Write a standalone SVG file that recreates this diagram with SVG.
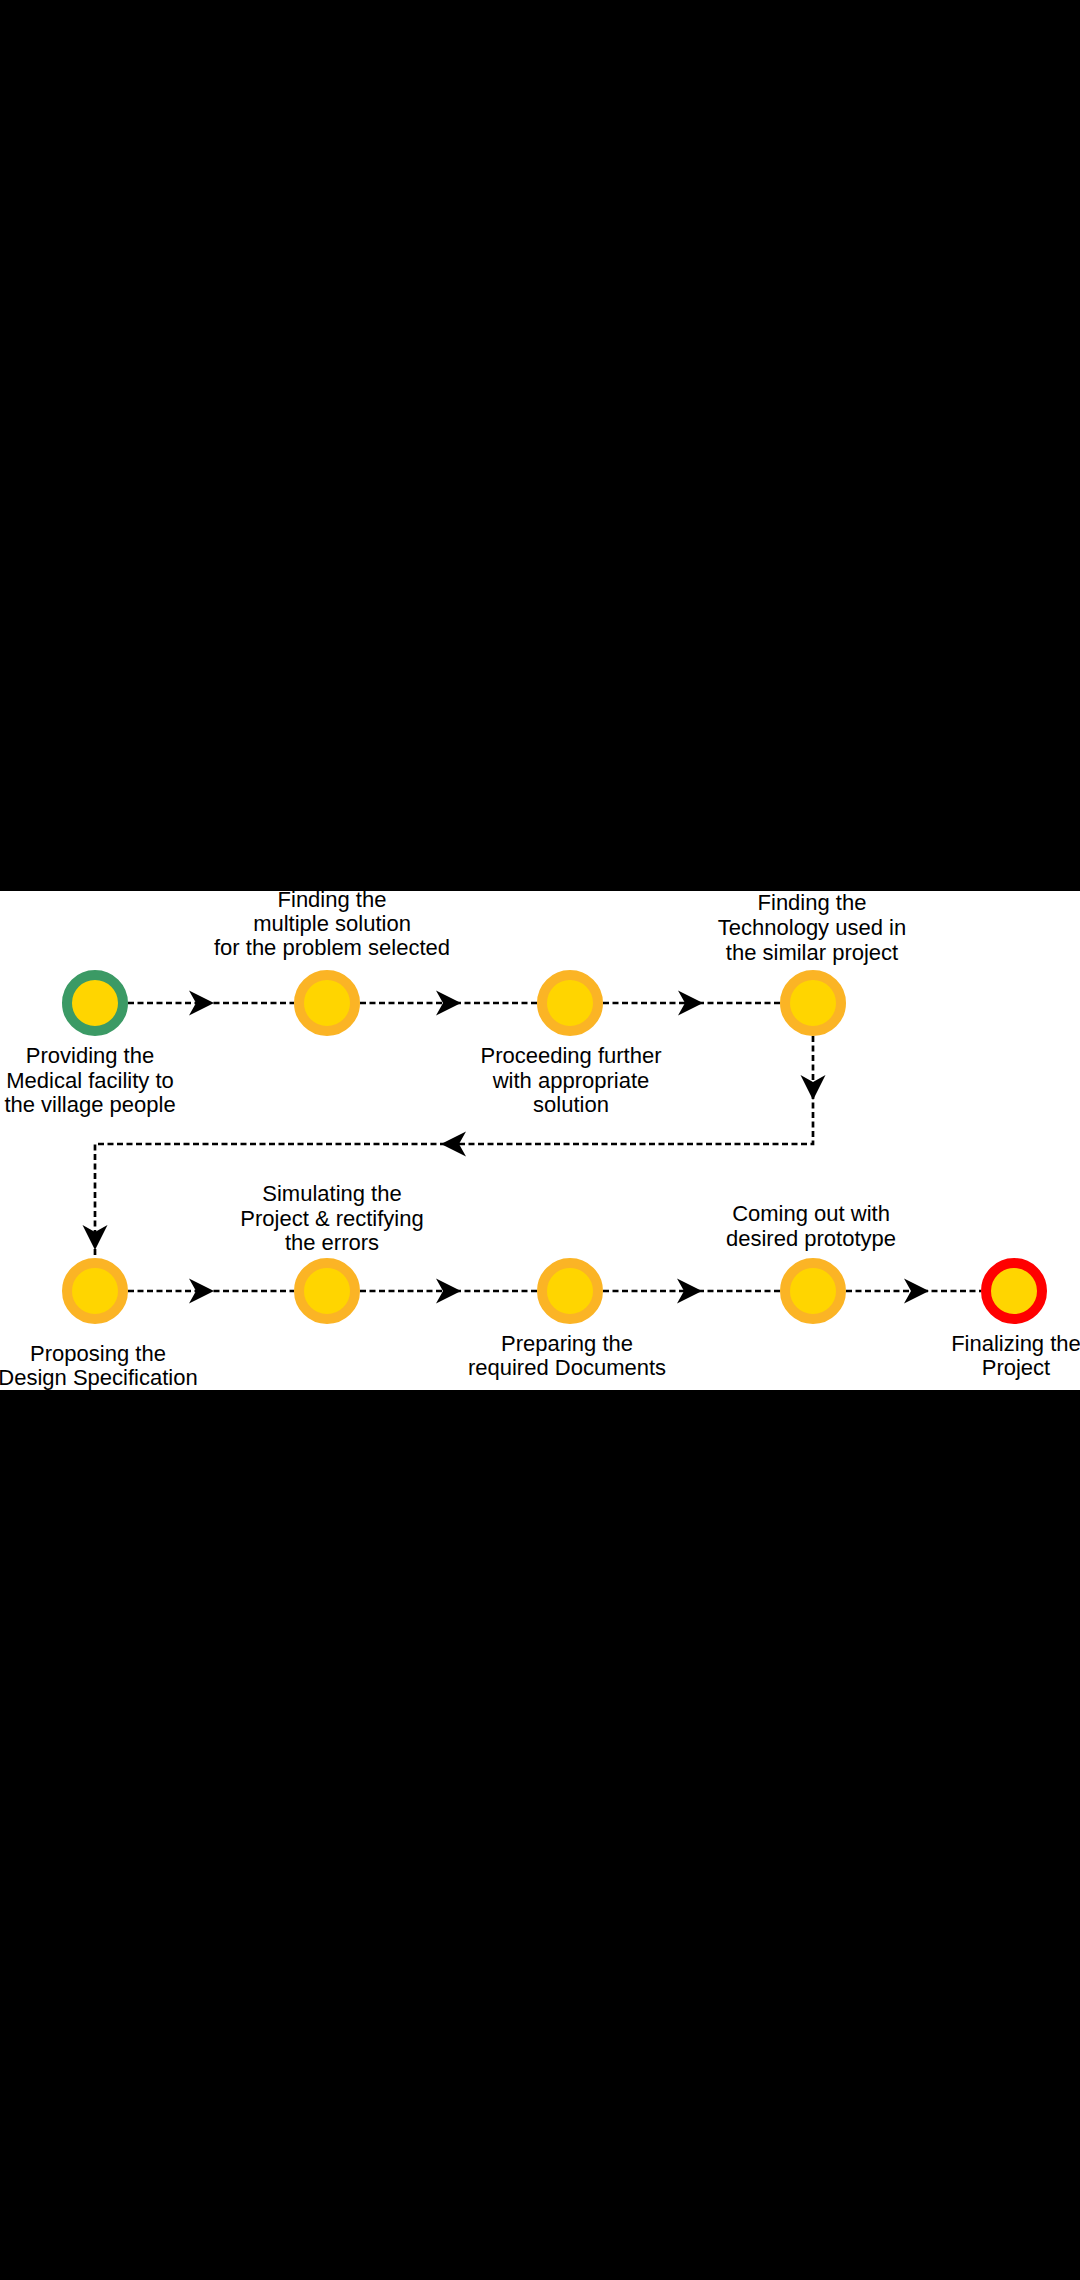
<svg xmlns="http://www.w3.org/2000/svg" xmlns:xlink="http://www.w3.org/1999/xlink" width="1080" height="2280" viewBox="0 0 1080 2280">
<style>
.lbl{font-family:"Liberation Sans",Arial,sans-serif;font-size:22px;fill:#000;text-anchor:middle}
.edge{fill:none;stroke:#000;stroke-width:2.7;stroke-dasharray:6 3.5}
.ring{stroke-width:10;fill:#ffd500}
.mid{stroke:#fbb425}
.start{stroke:#3b9a65}
.end{stroke:#ff0000}
</style>
<defs>
<path id="ah" d="M0,0 L-25,-12.5 L-18,0 L-25,12.5 Z" fill="#000"/>
</defs>
<rect x="0" y="0" width="1080" height="2280" fill="#000"/>
<rect x="0" y="891" width="1080" height="499" fill="#fff"/>
<g id="connectors">
<path class="edge" d="M128,1003 H294"/>
<path class="edge" d="M360,1003 H537"/>
<path class="edge" d="M603,1003 H780"/>
<path class="edge" d="M813,1036 V1144 H95 V1258"/>
<path class="edge" d="M128,1291 H294"/>
<path class="edge" d="M360,1291 H537"/>
<path class="edge" d="M603,1291 H780"/>
<path class="edge" d="M846,1291 H981"/>
<use xlink:href="#ah" transform="translate(214,1003)"/>
<use xlink:href="#ah" transform="translate(461,1003)"/>
<use xlink:href="#ah" transform="translate(703,1003)"/>
<use xlink:href="#ah" transform="translate(813,1100) rotate(90)"/>
<use xlink:href="#ah" transform="translate(441,1144) rotate(180)"/>
<use xlink:href="#ah" transform="translate(95,1250) rotate(90)"/>
<use xlink:href="#ah" transform="translate(214,1291)"/>
<use xlink:href="#ah" transform="translate(461,1291)"/>
<use xlink:href="#ah" transform="translate(702,1291)"/>
<use xlink:href="#ah" transform="translate(929,1291)"/>
</g>
<g id="n1"><circle class="ring start" cx="95" cy="1003" r="28"/>
<text class="lbl" x="90" y="1063">Providing the</text><text class="lbl" x="90" y="1088">Medical facility to</text><text class="lbl" x="90" y="1112">the village people</text></g>
<g id="n2"><circle class="ring mid" cx="327" cy="1003" r="28"/>
<text class="lbl" x="332" y="907">Finding the</text><text class="lbl" x="332" y="931">multiple solution</text><text class="lbl" x="332" y="955">for the problem selected</text></g>
<g id="n3"><circle class="ring mid" cx="570" cy="1003" r="28"/>
<text class="lbl" x="571" y="1063">Proceeding further</text><text class="lbl" x="571" y="1088">with appropriate</text><text class="lbl" x="571" y="1112">solution</text></g>
<g id="n4"><circle class="ring mid" cx="813" cy="1003" r="28"/>
<text class="lbl" x="812" y="910">Finding the</text><text class="lbl" x="812" y="935">Technology used in</text><text class="lbl" x="812" y="960">the similar project</text></g>
<g id="n5"><circle class="ring mid" cx="95" cy="1291" r="28"/>
<text class="lbl" x="98" y="1361">Proposing the</text><text class="lbl" x="98" y="1385">Design Specification</text></g>
<g id="n6"><circle class="ring mid" cx="327" cy="1291" r="28"/>
<text class="lbl" x="332" y="1201">Simulating the</text><text class="lbl" x="332" y="1226">Project &amp; rectifying</text><text class="lbl" x="332" y="1250">the errors</text></g>
<g id="n7"><circle class="ring mid" cx="570" cy="1291" r="28"/>
<text class="lbl" x="567" y="1351">Preparing the</text><text class="lbl" x="567" y="1375">required Documents</text></g>
<g id="n8"><circle class="ring mid" cx="813" cy="1291" r="28"/>
<text class="lbl" x="811" y="1221">Coming out with</text><text class="lbl" x="811" y="1246">desired prototype</text></g>
<g id="n9"><circle class="ring end" cx="1014" cy="1291" r="28"/>
<text class="lbl" x="1016" y="1351">Finalizing the</text><text class="lbl" x="1016" y="1375">Project</text></g>
</svg>
